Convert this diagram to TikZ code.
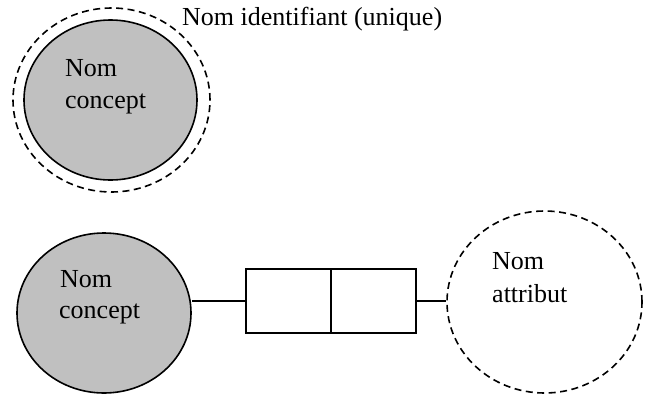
\documentclass[tikz,border=0pt]{standalone}
\usepackage{fontspec}
\setmainfont{Liberation Serif}
\usetikzlibrary{shapes.geometric}
\definecolor{conceptgray}{HTML}{C0C0C0}
\begin{document}
\begin{tikzpicture}[x=1pt,y=-1pt,
  concept/.style={ellipse,draw=black,line width=1.6pt,fill=conceptgray,inner sep=0pt},
  dashring/.style={ellipse,draw=black,line width=1.6pt,dash pattern=on 7pt off 4.5pt,inner sep=0pt},
  cell/.style={rectangle,draw=black,line width=1.6pt,fill=white,minimum width=85pt,minimum height=64pt,inner sep=0pt},
  txt/.style={anchor=base west,inner sep=0pt,font=\fontsize{26}{30}\selectfont},
  link/.style={draw=black,line width=1.6pt}]
\useasboundingbox (0,0) rectangle (653,394);
% top group
\node[dashring,minimum width=197pt,minimum height=184pt] (id) at (111.5,100) {};
\node[concept,minimum width=173pt,minimum height=160pt] (c1) at (110.5,100) {};
\node[txt] (c1a) at (65,76) {Nom};
\node[txt] (c1b) at (65,108) {concept};
\node[txt] (lbl) at (182,25) {Nom identifiant (unique)};
% bottom group
\node[concept,minimum width=174pt,minimum height=160pt] (c2) at (104,313) {};
\node[txt] (c2a) at (60,287) {Nom};
\node[txt] (c2b) at (59,318) {concept};
\node[cell] (r1) at (288.5,301) {};
\node[cell] (r2) at (373.5,301) {};
\node[dashring,minimum width=195pt,minimum height=182pt] (at) at (544.5,302) {};
\node[txt] (ata) at (492,269) {Nom};
\node[txt] (atb) at (492,302) {attribut};
\draw[link] (r1.west) -- (r1.west -| c2.east);
\draw[link] (r2.east) -- (r2.east -| at.west);
\end{tikzpicture}
\end{document}
